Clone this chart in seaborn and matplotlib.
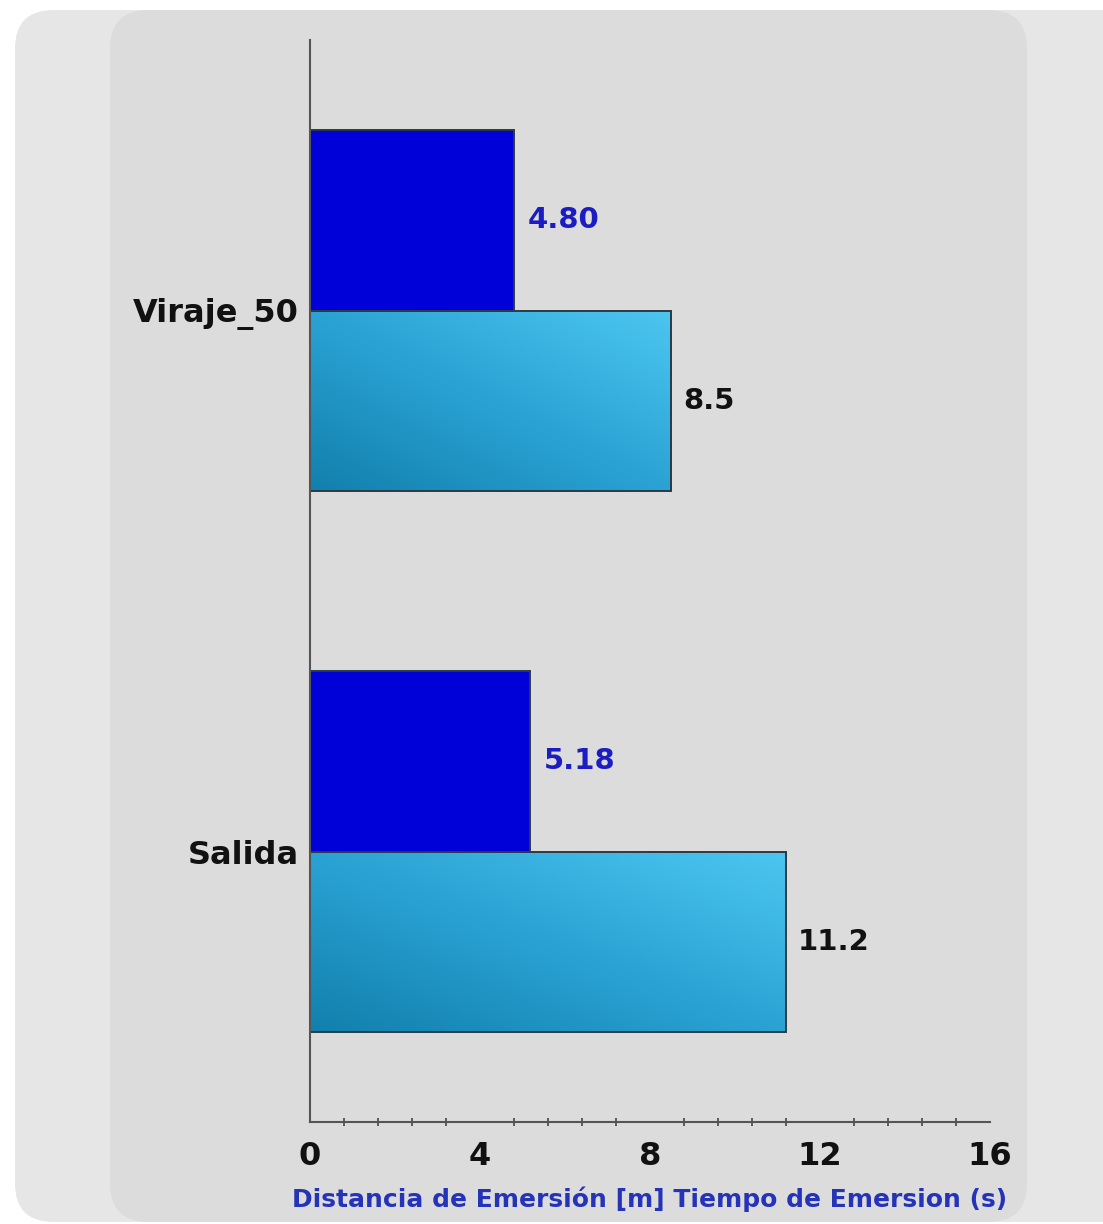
import numpy as np
import pandas as pd
import matplotlib
matplotlib.use("Agg")
import matplotlib.pyplot as plt
from matplotlib.patches import FancyBboxPatch
from matplotlib.colors import LinearSegmentedColormap
from matplotlib.ticker import MultipleLocator
import seaborn as sns

# data
categories = ["Viraje_50", "Salida"]
series = ["Distancia de Emersión [m]", "Tiempo de Emersion (s)"]
distancia = [4.80, 5.18]
tiempo = [8.5, 11.2]
distancia_labels = ["4.80", "5.18"]
tiempo_labels = ["8.5", "11.2"]
x_ticks = [0, 4, 8, 12, 16]

df = pd.DataFrame({
    "categoria": categories * 2,
    "serie": [series[0]] * 2 + [series[1]] * 2,
    "valor": distancia + tiempo,
})

sns.set_theme(style="white")
plt.rcParams["font.family"] = ["DejaVu Sans"]

fig = plt.figure(figsize=(11.03, 12.24), dpi=100)
fig.patch.set_facecolor("white")

# rounded background panels
W, H = 1103, 1224
outer = FancyBboxPatch((15 / W, 2 / H), 1.2, 1 - 12 / H,
                       boxstyle="round,pad=0,rounding_size=0.035",
                       transform=fig.transFigure, facecolor="#e6e6e6",
                       edgecolor="none", mutation_aspect=W / H, zorder=-2)
inner = FancyBboxPatch((110 / W, 2 / H), (1027 - 110) / W, 1 - 12 / H,
                       boxstyle="round,pad=0,rounding_size=0.035",
                       transform=fig.transFigure, facecolor="#dcdcdc",
                       edgecolor="none", mutation_aspect=W / H, zorder=-1)
fig.patches.extend([outer, inner])

ax = fig.add_axes([310 / W, 1 - 1122 / H, (990 - 310) / W, (1122 - 40) / H])
ax.set_facecolor("none")

sns.barplot(data=df, y="categoria", x="valor", hue="serie", orient="h",
            palette=["#0000d8", "#2aa3d4"], width=0.666, saturation=1,
            edgecolor="#2b3a44", linewidth=1.4, legend=False, ax=ax)

# gradient fill for the light blue bars (dark bottom-left, light top-right)
cmap = LinearSegmentedColormap.from_list("g", ["#1280ad", "#2aa3d4", "#4cc6f0"])
grad = np.add.outer(np.linspace(0, 1, 100), np.linspace(0, 1, 100)) / 2
light = ax.containers[1]
for p in light.patches:
    x0, y0 = p.get_x(), p.get_y()
    w, h = p.get_width(), p.get_height()
    im = ax.imshow(grad, cmap=cmap, aspect="auto",
                   extent=[x0, x0 + w, y0 + h, y0], origin="lower",
                   interpolation="bilinear", zorder=p.get_zorder() - 0.1)
    im.set_clip_path(p)
    p.set_facecolor("none")

ax.set_xlim(0, 16)
ax.set_ylim(1.5, -0.5)

lbl_font = dict(fontsize=21, fontweight="bold")
for p, t in zip(ax.containers[0].patches, distancia_labels):
    ax.annotate(t, (p.get_width(), p.get_y() + p.get_height() / 2),
                xytext=(14, 0), textcoords="offset pixels", va="center",
                ha="left", color="#1c1cc4", **lbl_font)
for p, t in zip(light.patches, tiempo_labels):
    ax.annotate(t, (p.get_width(), p.get_y() + p.get_height() / 2),
                xytext=(12, 0), textcoords="offset pixels", va="center",
                ha="left", color="#111111", **lbl_font)

ax.set_xticks(x_ticks)
ax.set_xticklabels([str(v) for v in x_ticks], fontsize=23, fontweight="bold",
                   color="#111111")
ax.xaxis.set_minor_locator(MultipleLocator(0.8))
ax.tick_params(axis="x", which="both", direction="inout", length=6,
               width=1.2, color="#444444", bottom=True, pad=14)
ax.tick_params(axis="x", which="major", length=0)
ax.tick_params(axis="y", length=0, pad=8, labelsize=23)
for lab in ax.get_yticklabels():
    lab.set_fontweight("bold")
    lab.set_color("#111111")

ax.set_ylabel("")
ax.set_xlabel("Distancia de Emersión [m] Tiempo de Emersion (s)",
              fontsize=18, fontweight="bold", color="#2433b8", labelpad=10)

sns.despine(ax=ax)
for s in ["left", "bottom"]:
    ax.spines[s].set_color("#555555")
    ax.spines[s].set_linewidth(1.5)

fig.savefig("out.png", dpi=100, facecolor=fig.get_facecolor())
